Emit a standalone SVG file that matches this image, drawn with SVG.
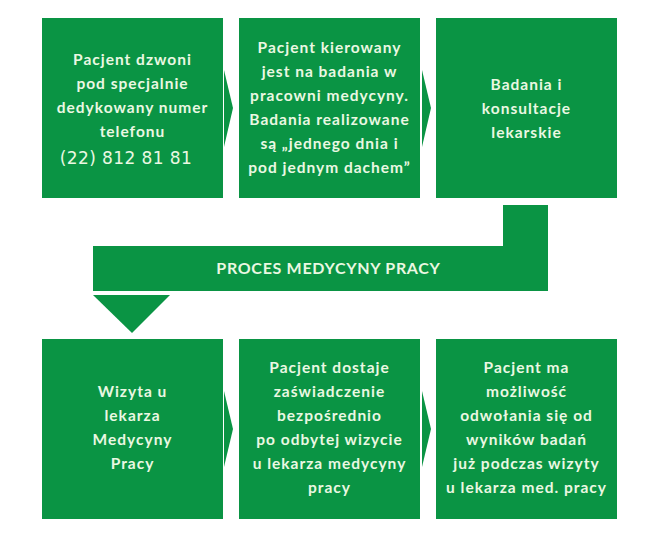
<svg xmlns="http://www.w3.org/2000/svg" width="658" height="540" viewBox="0 0 658 540">
<style>
.box{fill:#0a9444}
.arr{fill:#0a9444}
.t{font-family:Lato,"Liberation Sans",sans-serif;font-weight:bold;font-size:15.5px;fill:#eaf8e2;text-anchor:middle;letter-spacing:1px}
.ph{font-family:"DejaVu Sans",sans-serif;font-size:17px;fill:#eaf8e2;text-anchor:middle;letter-spacing:0.4px}
.band{font-family:Lato,"Liberation Sans",sans-serif;font-weight:bold;font-size:16px;fill:#eaf8e2;text-anchor:middle;letter-spacing:0.7px}
</style>
<rect width="658" height="540" fill="#ffffff"/>
<g id="connectors">
<polygon class="arr" points="224,70 233,108 224,147"/>
<polygon class="arr" points="422,70 431,108 422,147"/>
<polygon class="arr" points="224,391 233,429 224,467"/>
<polygon class="arr" points="422,391 431,429 422,467"/>
</g>
<g id="band">
<polygon class="box" points="503,205 548,205 548,291 93,291 93,246 503,246"/>
<polygon class="arr" points="93,295 170,295 132,333"/>
<text class="band" x="328.5" y="274">PROCES MEDYCYNY PRACY</text>
</g>
<g id="n1">
<rect class="box" x="42" y="18" width="181" height="180"/>
<text class="t" x="132.5" y="65">Pacjent dzwoni</text>
<text class="t" x="132.5" y="89">pod specjalnie</text>
<text class="t" x="132.5" y="113">dedykowany numer</text>
<text class="t" x="132.5" y="137">telefonu</text>
<text class="ph" x="126" y="164">(22) 812 81 81</text>
</g>
<g id="n2">
<rect class="box" x="239" y="18" width="181" height="180"/>
<text class="t" x="329.5" y="53">Pacjent kierowany</text>
<text class="t" x="329.5" y="77">jest na badania w</text>
<text class="t" x="329.5" y="101">pracowni medycyny.</text>
<text class="t" x="329.5" y="125">Badania realizowane</text>
<text class="t" x="329.5" y="149">są „jednego dnia i</text>
<text class="t" x="329.5" y="173">pod jednym dachem”</text>
</g>
<g id="n3">
<rect class="box" x="436" y="18" width="181" height="180"/>
<text class="t" x="526.5" y="90">Badania i</text>
<text class="t" x="526.5" y="114">konsultacje</text>
<text class="t" x="526.5" y="138">lekarskie</text>
</g>
<g id="n4">
<rect class="box" x="42" y="339" width="181" height="180"/>
<text class="t" x="132.5" y="397">Wizyta u</text>
<text class="t" x="132.5" y="421">lekarza</text>
<text class="t" x="132.5" y="445">Medycyny</text>
<text class="t" x="132.5" y="469">Pracy</text>
</g>
<g id="n5">
<rect class="box" x="239" y="339" width="181" height="180"/>
<text class="t" x="329.5" y="373">Pacjent dostaje</text>
<text class="t" x="329.5" y="397">zaświadczenie</text>
<text class="t" x="329.5" y="421">bezpośrednio</text>
<text class="t" x="329.5" y="445">po odbytej wizycie</text>
<text class="t" x="329.5" y="469">u lekarza medycyny</text>
<text class="t" x="329.5" y="493">pracy</text>
</g>
<g id="n6">
<rect class="box" x="436" y="339" width="181" height="180"/>
<text class="t" x="526.5" y="373">Pacjent ma</text>
<text class="t" x="526.5" y="397">możliwość</text>
<text class="t" x="526.5" y="421">odwołania się od</text>
<text class="t" x="526.5" y="445">wyników badań</text>
<text class="t" x="526.5" y="469">już podczas wizyty</text>
<text class="t" x="526.5" y="493">u lekarza med. pracy</text>
</g>
</svg>
